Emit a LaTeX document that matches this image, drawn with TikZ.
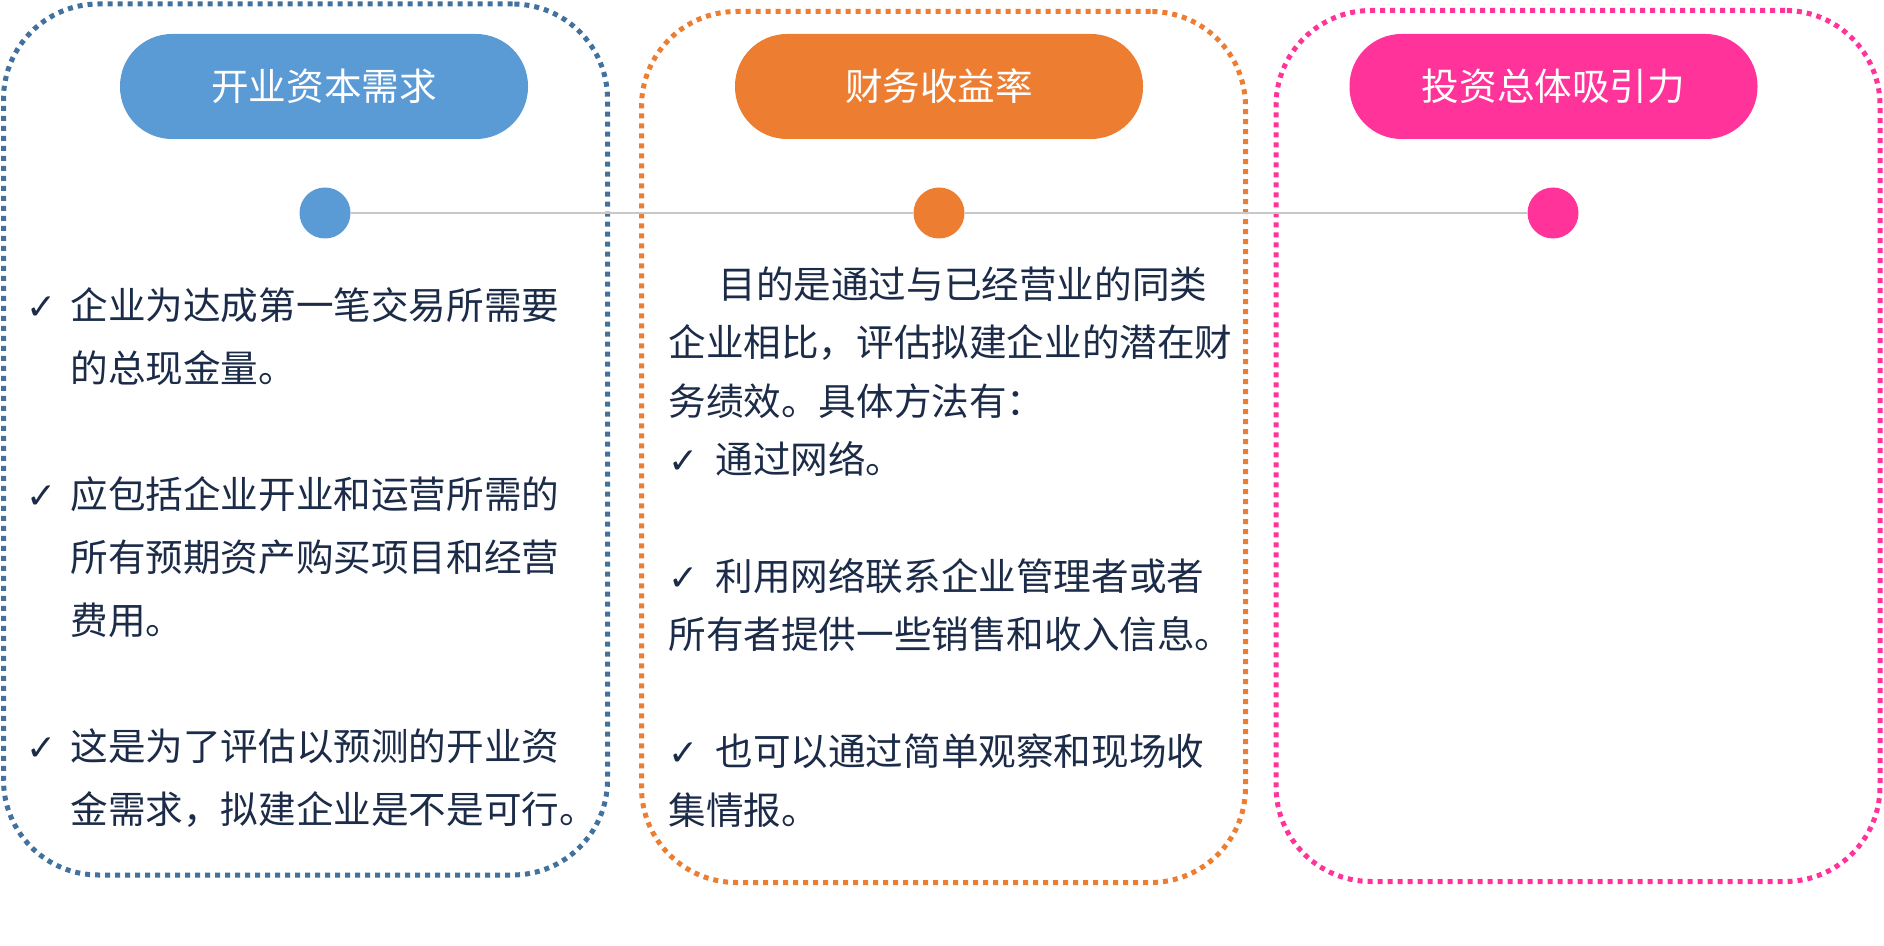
\documentclass[tikz,border=0pt]{standalone}
\usepackage{fontspec}
\setmainfont{Noto Sans CJK SC}
\newfontfamily\chkfont{DejaVu Sans}
\usepackage{xcolor}
\usepackage{tikz}
\usetikzlibrary{positioning}

\definecolor{bluebd}{HTML}{41719C}
\definecolor{bluefill}{HTML}{5B9BD5}
\definecolor{orangefill}{HTML}{ED7D31}
\definecolor{pinkfill}{HTML}{FF3399}
\definecolor{txtnavy}{HTML}{1B2B48}
\definecolor{linegray}{HTML}{C8C8C8}

% check mark in a box of given width, and the matching indent
\newcommand{\chk}[1][22pt]{\makebox[#1][l]{\chkfont\bfseries\fontsize{18pt}{18pt}\selectfont ✓}}
\newcommand{\ind}{\hspace*{22pt}}

\begin{document}
\begin{tikzpicture}[x=0.5pt, y=-0.5pt,
    panel/.style={rounded corners=47.5pt, line width=2.5pt, dash pattern=on 2.5pt off 2.5pt,
                  minimum width=302pt, minimum height=435.5pt, inner sep=0pt},
    pill/.style={rounded corners=26pt, minimum width=204pt, minimum height=52.5pt,
                 inner sep=0pt, text=white, font=\fontsize{18.8pt}{22pt}\selectfont},
    dot/.style={circle, minimum size=25.5pt, inner sep=0pt},
    body/.style={anchor=base west, align=left, inner sep=0pt, text=txtnavy},
    link/.style={draw=linegray, line width=1pt}]

    \useasboundingbox (0,0) rectangle (1884,946);

    % ============ PANELS ============
    \node[panel, draw=bluebd] (P1) at (305.5, 439.5) {};
    \node[panel, draw=orangefill] (P2) at (943.5, 447) {};
    \node[panel, draw=pinkfill] (P3) at (1578, 446) {};

    % ============ TITLES ============
    \node[pill, fill=bluefill] (H1) at (324, 86.5) {开业资本需求};
    \node[pill, fill=orangefill] (H2) at (939, 86.5) {财务收益率};
    \node[pill, fill=pinkfill] (H3) at (1553.5, 86.5) {投资总体吸引力};

    % ============ TIMELINE ============
    \node[dot, fill=bluefill] (C1) at (325, 213) {};
    \node[dot, fill=orangefill] (C2) at (939, 213) {};
    \node[dot, fill=pinkfill] (C3) at (1553, 213) {};
    \draw[link] (C1) -- (C2) -- (C3);

    % ============ LEFT COLUMN (placed by its last baseline) ============
    \node[body, font=\fontsize{18.8pt}{31.5pt}\selectfont] (T1) at (26, 823)
      {\chk 企业为达成第一笔交易所需要\\
       \ind 的总现金量。\\[31.5pt]
       \chk 应包括企业开业和运营所需的\\
       \ind 所有预期资产购买项目和经营\\
       \ind 费用。\\[31.5pt]
       \chk 这是为了评估以预测的开业资\\
       \ind 金需求，拟建企业是不是可行。};

    % ============ CENTER COLUMN (placed by its last baseline) ============
    \node[body, font=\fontsize{18.8pt}{29.2pt}\selectfont] (T2) at (668, 824)
      {\hspace*{25pt}目的是通过与已经营业的同类\\
       企业相比，评估拟建企业的潜在财\\
       务绩效。具体方法有：\\
       \chk[23.5pt]通过网络。\\[29.2pt]
       \chk[23.5pt]利用网络联系企业管理者或者\\
       所有者提供一些销售和收入信息。\\[29.2pt]
       \chk[23.5pt]也可以通过简单观察和现场收\\
       集情报。};

\end{tikzpicture}
\end{document}
